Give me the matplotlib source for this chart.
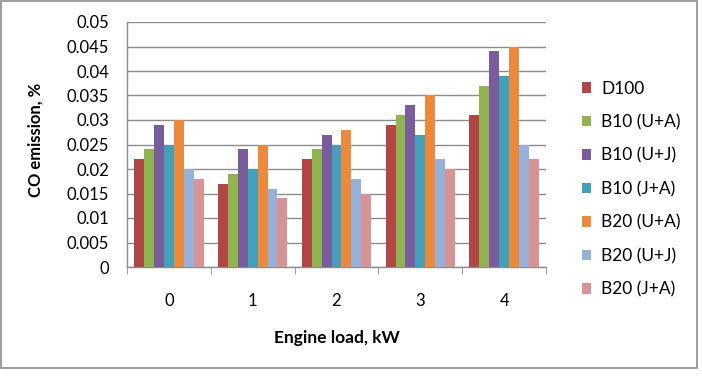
import numpy as np
import matplotlib
matplotlib.use("Agg")
from matplotlib import pyplot as plt
from matplotlib.patches import Rectangle

# Data
ENGINE_LOAD = ["0", "1", "2", "3", "4"]
SERIES_NAMES = ["D100", "B10 (U+A)", "B10 (U+J)", "B10 (J+A)",
                "B20 (U+A)", "B20 (U+J)", "B20 (J+A)"]
D100 = [0.022, 0.017, 0.022, 0.029, 0.031]
B10_UA = [0.024, 0.019, 0.024, 0.031, 0.037]
B10_UJ = [0.029, 0.024, 0.027, 0.033, 0.044]
B10_JA = [0.025, 0.020, 0.025, 0.027, 0.039]
B20_UA = [0.030, 0.025, 0.028, 0.035, 0.045]
B20_UJ = [0.020, 0.016, 0.018, 0.022, 0.025]
B20_JA = [0.018, 0.014, 0.015, 0.020, 0.022]
Y_TICKS = [0, 0.005, 0.01, 0.015, 0.02, 0.025, 0.03, 0.035, 0.04, 0.045, 0.05]
Y_TICK_LABELS = ["0", "0.005", "0.01", "0.015", "0.02", "0.025", "0.03",
                 "0.035", "0.04", "0.045", "0.05"]

COLORS = ["#B04646", "#91B251", "#785C9C", "#449FB8",
          "#EB8A3C", "#96B0D8", "#D69494"]
FONT = ["Lato", "DejaVu Sans"]
GRID_COLOR = "#8C8C8C"

plt.rcParams["font.family"] = FONT

series = [D100, B10_UA, B10_UJ, B10_JA, B20_UA, B20_UJ, B20_JA]

fig = plt.figure(figsize=(7.02, 3.78), dpi=100)
ax = fig.add_axes([127 / 702, 1 - 267 / 378, 419 / 702, 245 / 378])

x = np.arange(len(ENGINE_LOAD))
bar_w = 0.118
offsets = (np.arange(len(series)) - (len(series) - 1) / 2) * bar_w
for vals, name, color, off in zip(series, SERIES_NAMES, COLORS, offsets):
    ax.bar(x + off, vals, width=bar_w, color=color, label=name,
           linewidth=0, zorder=3)

ax.set_xlim(-0.5, len(ENGINE_LOAD) - 0.5)
ax.set_ylim(0, 0.05)
ax.set_yticks(Y_TICKS)
ax.set_yticklabels(Y_TICK_LABELS)
ax.set_xticks(x)
ax.set_xticklabels(ENGINE_LOAD)
ax.set_xticks(np.arange(-0.5, len(ENGINE_LOAD)), minor=True)

ax.tick_params(axis="x", which="major", length=0, pad=19, labelsize=12)
ax.tick_params(axis="x", which="minor", length=5, color=GRID_COLOR,
               direction="out")
ax.tick_params(axis="y", length=0, pad=13, labelsize=12)

ax.grid(True, axis="y", color=GRID_COLOR, linewidth=1, zorder=0)
ax.set_axisbelow(True)
for side in ["top", "right"]:
    ax.spines[side].set_visible(False)
for side in ["left", "bottom"]:
    ax.spines[side].set_color(GRID_COLOR)
    ax.spines[side].set_linewidth(1)

ax.set_ylabel("CO emission, %", fontsize=12, fontweight="bold")
ax.yaxis.set_label_coords(-0.200, 0.518)
ax.set_xlabel("Engine load, kW", fontsize=12.5, fontweight="bold", labelpad=15)

ax.legend(loc="center left", bbox_to_anchor=(0.8185, 0.50),
          bbox_transform=fig.transFigure, frameon=False, fontsize=12.5,
          handlelength=0.55, handleheight=0.55, handletextpad=0.6,
          labelspacing=1.0, borderaxespad=0)

# Outer chart frame
fig.patches.append(Rectangle((0.001, 10 / 378), 696 / 702, 367 / 378,
                             transform=fig.transFigure, fill=False,
                             edgecolor="#8C8C8C", linewidth=1.2))

fig.savefig("out.png", dpi=100)
